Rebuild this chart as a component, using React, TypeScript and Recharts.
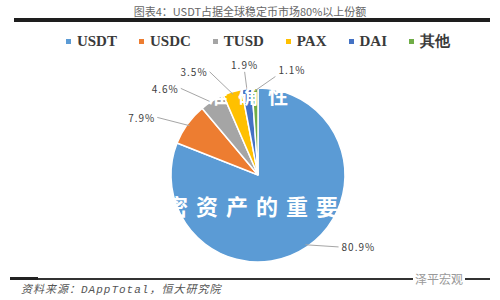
import { PieChart, Pie, Cell } from 'recharts'

const coins = ['USDT', 'USDC', 'TUSD', 'PAX', 'DAI', '其他']
const shares = [80.9, 7.9, 4.6, 3.5, 1.9, 1.1]
const colors = ['#5b9bd5', '#ed7d31', '#a5a5a5', '#ffc000', '#4472c4', '#70ad47']

// label placement tweaks (angle shift in degrees, extra radius) so the small slices don't collide
const labelNudge = [
  [14, 21],
  [6, 29],
  [10, 29],
  [8, 27],
  [0, 17],
  [-12, 13],
]

const data = coins.map((name, i) => ({ name, value: shares[i] }))

const RAD = Math.PI / 180

function renderLabel(props: any) {
  const { cx, cy, midAngle, outerRadius, index, value } = props
  const [shift, ext] = labelNudge[index]
  const a = (midAngle + shift) * RAD
  const sx = cx + outerRadius * 0.97 * Math.cos(-midAngle * RAD)
  const sy = cy + outerRadius * 0.97 * Math.sin(-midAngle * RAD)
  const ex = cx + (outerRadius + ext) * Math.cos(-a)
  const ey = cy + (outerRadius + ext) * Math.sin(-a)
  const c = Math.cos(a)
  const top = Math.sin(a) > 0.95
  const anchor = c > 0.15 ? 'start' : c < -0.15 ? 'end' : 'middle'
  const tx = anchor === 'start' ? ex + 3 : anchor === 'end' ? ex - 2 : ex
  const ty = top ? ey - 7 : ey
  return (
    <g>
      <polyline points={`${sx},${sy} ${ex},${ey}`} stroke="#a6a6a6" strokeWidth={1} fill="none" />
      <text
        x={tx}
        y={ty}
        textAnchor={anchor}
        dominantBaseline="central"
        fill="#404040"
        fontSize={10}
        letterSpacing={1}
        fontFamily='"Noto Sans CJK SC", sans-serif'
      >
        {value.toFixed(1)}%
      </text>
    </g>
  )
}

export default function App() {
  return (
    <div style={{ position: 'absolute', left: 0, top: 0, width: 500, height: 300, background: '#fff', overflow: 'hidden' }}>
      <div
        style={{
          position: 'absolute', top: 3, left: 0, width: 500, textAlign: 'center',
          fontSize: 11, color: '#666', fontFamily: '"Noto Sans CJK SC", sans-serif',
        }}
      >
        图表4：USDT占据全球稳定币市场80%以上份额
      </div>
      <div style={{ position: 'absolute', top: 18, left: 14, width: 476, height: 4, background: '#1e1e1e' }} />
      <div
        style={{
          position: 'absolute', top: 32, left: 8, width: 500, display: 'flex', justifyContent: 'center',
          fontFamily: '"Liberation Serif", serif', fontWeight: 'bold', fontSize: 15, color: '#3a3a3a', lineHeight: '18px',
        }}
      >
        {coins.map((c, i) => (
          <span key={c} style={{ display: 'flex', alignItems: 'center', margin: '0 11px' }}>
            <span style={{ width: 5, height: 5, background: colors[i], marginRight: 6, display: 'inline-block' }} />
            {c}
          </span>
        ))}
      </div>
      <PieChart width={500} height={300} style={{ position: 'absolute', left: 0, top: 0 }}>
        <Pie
          data={data}
          dataKey="value"
          nameKey="name"
          cx={253}
          cy={170}
          outerRadius={87}
          startAngle={90}
          endAngle={-270}
          stroke="#fff"
          strokeWidth={1.5}
          label={renderLabel}
          labelLine={false}
          isAnimationActive={false}
        >
          {data.map((d, i) => (
            <Cell key={d.name} fill={colors[i]} />
          ))}
        </Pie>
      </PieChart>
      <div
        style={{
          position: 'absolute', top: 86, left: 208, fontSize: 20, fontWeight: 'bold', color: '#fff',
          letterSpacing: 10, fontFamily: '"Noto Sans CJK SC", sans-serif', lineHeight: 1,
        }}
      >
        准确性
      </div>
      <div
        style={{
          position: 'absolute', top: 194, left: 166, fontSize: 22, fontWeight: 'bold', color: '#fff',
          letterSpacing: 8, fontFamily: '"Noto Sans CJK SC", sans-serif', lineHeight: 1,
        }}
      >
        密资产的重要
      </div>
      <div style={{ position: 'absolute', top: 278, left: 10, width: 480, height: 2, background: '#333' }} />
      <div style={{ position: 'absolute', top: 277, left: 10, width: 28, height: 3, background: '#222' }} />
      <div
        style={{
          position: 'absolute', top: 272, left: 413, fontSize: 12, color: '#999', background: '#fff',
          padding: '0 2px', fontFamily: '"Noto Sans CJK SC", sans-serif', lineHeight: '14px',
        }}
      >
        泽平宏观
      </div>
      <div
        style={{
          position: 'absolute', top: 285, left: 21, fontSize: 11, color: '#555', fontStyle: 'italic',
          letterSpacing: 1, fontFamily: '"Liberation Mono", "Noto Sans CJK SC", monospace', lineHeight: '11px',
        }}
      >
        资料来源：DAppTotal，恒大研究院
      </div>
    </div>
  )
}
